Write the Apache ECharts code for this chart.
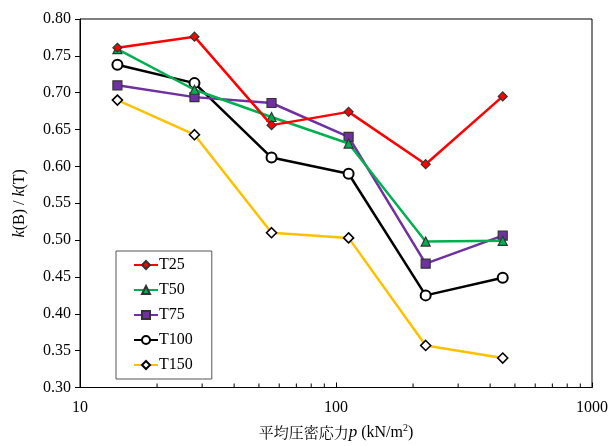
<!DOCTYPE html>
<html><head><meta charset="utf-8">
<script src="https://cdn.jsdelivr.net/npm/echarts@6/dist/echarts.min.js"></script>
<style>html,body{margin:0;padding:0;background:#fff}#c{width:611px;height:446px}</style>
</head><body><div id="c"></div>
<script>
const pressure = [14, 28, 56, 112, 224, 448];
const T25  = [0.761, 0.776, 0.656, 0.674, 0.603, 0.695];
const T50  = [0.759, 0.704, 0.667, 0.631, 0.498, 0.499];
const T75  = [0.710, 0.694, 0.686, 0.640, 0.468, 0.506];
const T100 = [0.738, 0.713, 0.612, 0.590, 0.425, 0.449];
const T150 = [0.690, 0.643, 0.510, 0.503, 0.357, 0.340];
const seriesNames = ['T25', 'T50', 'T75', 'T100', 'T150'];
const seriesValues = [T25, T50, T75, T100, T150];
const xTicks = [10, 100, 1000];
const minorTicks = [20,30,40,50,60,70,80,90,200,300,400,500,600,700,800,900];
const yTicks = ['0.30','0.35','0.40','0.45','0.50','0.55','0.60','0.65','0.70','0.75','0.80'];

const styles = [
  {color:'#FF0000', symbol:'diamond', size:9, fill:'#FF0000'},
  {color:'#00B050', symbol:'triangle', size:9, fill:'#00B050'},
  {color:'#7030A0', symbol:'rect', size:9, fill:'#7030A0'},
  {color:'#000000', symbol:'circle', size:10, fill:'#FFFFFF'},
  {color:'#FFC000', symbol:'diamond', size:10, fill:'#FFFFFF'}
];
const font = 'Liberation Serif';
const chart = echarts.init(document.getElementById('c'));
chart.setOption({
  backgroundColor:'#fff',
  animation:false,
  grid:{left:80, right:17, top:19, bottom:52, show:true, borderColor:'#000', borderWidth:1, backgroundColor:'transparent'},
  xAxis:{
    type:'log', logBase:10, min:10, max:1000,
    axisLine:{lineStyle:{color:'#000', width:1}},
    axisTick:{inside:true, length:5, lineStyle:{color:'#000'}},
    splitLine:{show:false},
    axisLabel:{color:'#000', fontFamily:font, fontSize:16, margin:12,
      formatter:function(v){ return xTicks.indexOf(Math.round(v))>=0 ? String(Math.round(v)) : ''; }},
    name:'{a|平均圧密応力}{i|p}{b| (kN/m}{s|2}{b|)}',
    nameLocation:'middle', nameGap:36,
    nameTextStyle:{rich:{
      a:{fontFamily:'Noto Serif CJK JP, Noto Sans CJK JP', fontSize:15, color:'#000'},
      b:{fontFamily:font, fontSize:16, color:'#000'},
      i:{fontFamily:font, fontStyle:'italic', fontSize:17, color:'#000'},
      s:{fontFamily:font, fontSize:10, color:'#000', verticalAlign:'top', padding:[0,0,8,0]}
    }}
  },
  yAxis:{
    type:'value', min:0.30, max:0.80, interval:0.05,
    axisLine:{show:true, lineStyle:{color:'#000', width:1}},
    axisTick:{show:true, inside:false, length:5, lineStyle:{color:'#000'}},
    splitLine:{show:false},
    axisLabel:{color:'#000', fontFamily:font, fontSize:16, margin:9,
      formatter:function(v){ const s=v.toFixed(2); return yTicks.indexOf(s)>=0? s : ''; }},
    name:'{i|k}{a|(B) / }{i|k}{a|(T)}',
    nameLocation:'middle', nameGap:52, nameRotate:90,
    nameTextStyle:{rich:{
      a:{fontFamily:font, fontSize:16, color:'#000'},
      i:{fontFamily:font, fontStyle:'italic', fontSize:16, color:'#000'}
    }}
  },
  legend:{
    orient:'vertical', left:116, top:251,
    backgroundColor:'#fff', borderColor:'#555', borderWidth:1,
    padding:[6,19,6,17], itemGap:9, itemWidth:24, itemHeight:10,
    textStyle:{fontFamily:font, fontSize:16, color:'#000', padding:[0,0,0,-4]},
    data:seriesNames.map(n=>({name:n}))
  },
  series: seriesNames.map((n,i)=>({
    name:n, type:'line',
    data: pressure.map((p,j)=>[p, seriesValues[i][j]]),
    symbol: styles[i].symbol, symbolSize: styles[i].size,
    lineStyle:{color:styles[i].color, width:2.5},
    itemStyle:{color:styles[i].fill, borderColor: i===3||i===4 ? '#000' : '#333', borderWidth: i===3?2:(i===4?1.6:1.2)},
    z: 10-i
  })).concat([{
    name:'minor', type:'custom', silent:true, z:1,
    data: minorTicks.map(v=>[v, 0.30]),
    renderItem: function(params, api){
      const p = api.coord([api.value(0), api.value(1)]);
      return {type:'line', shape:{x1:p[0], y1:p[1], x2:p[0], y2:p[1]-4}, style:{stroke:'#000', lineWidth:1}};
    }
  }])
});
</script></body></html>
